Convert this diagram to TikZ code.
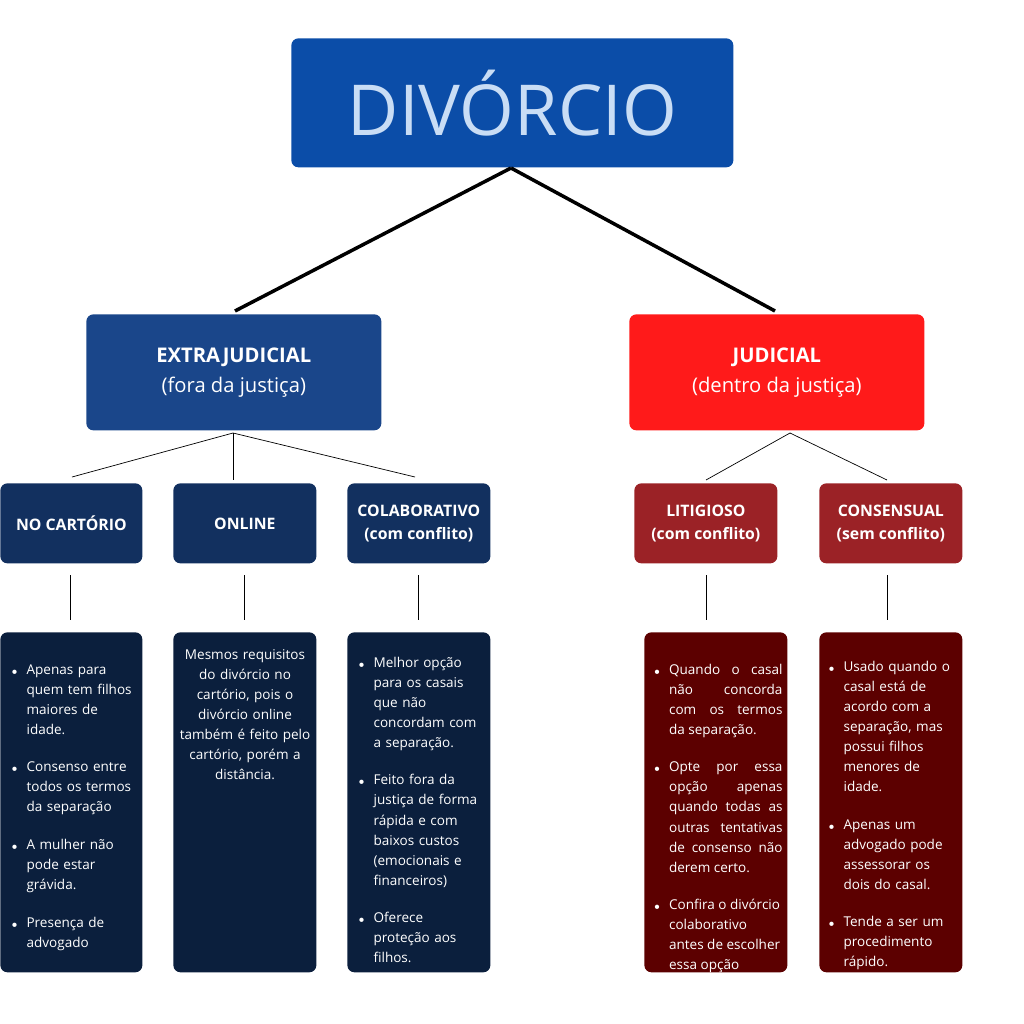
\documentclass[tikz,border=0pt]{standalone}
\usepackage{fontspec}
\setmainfont{Open Sans}
\usepackage{enumitem}
\usetikzlibrary{positioning}
\definecolor{topblue}{HTML}{0B4DA8}
\definecolor{extblue}{HTML}{1A468A}
\definecolor{judred}{HTML}{FF1A1A}
\definecolor{subblue}{HTML}{12305F}
\definecolor{subred}{HTML}{9B2226}
\definecolor{textblue}{HTML}{0B1F3D}
\definecolor{textred}{HTML}{5C0000}
\definecolor{titlefg}{HTML}{C9DDF5}
\hyphenpenalty=10000
\newcommand{\itemlist}[1]{\begin{itemize}[leftmargin=10pt,labelsep=5pt,itemsep=10pt,topsep=0pt,parsep=0pt,label={\tiny$\bullet$}]#1\end{itemize}}
\begin{document}
\begin{tikzpicture}[
    x=0.02cm,y=-0.02cm,
    box/.style 2 args={fill=#1,rounded corners=4pt,anchor=north west,
      minimum width=#2*0.02cm,inner sep=0pt},
    head/.style={text=white,font=\bfseries\fontsize{9}{13}\selectfont,align=center},
    body/.style={text=white,font=\fontsize{7.7}{11.4}\selectfont,text width=2.6cm,anchor=north},
    link/.style={line width=0.4pt,black},
    tie/.style={line width=2pt,black}
]
\useasboundingbox (0,0) rectangle (1024,1024);

% main levels
\node[box={topblue}{442},minimum height=2.58cm,text=titlefg,font=\fontsize{40}{44}\selectfont] (div) at (291,38) {DIVÓRCIO};
\node[box={extblue}{295},minimum height=2.32cm,text=white,align=center,font=\fontsize{11.5}{16}\selectfont] (ext) at (86,314) {\textbf{EXTRAJUDICIAL}\\[1pt](fora da justiça)};
\node[box={judred}{295},minimum height=2.32cm,text=white,align=center,font=\fontsize{11.5}{16}\selectfont] (jud) at (629,314) {\textbf{JUDICIAL}\\[1pt](dentro da justiça)};

% sub levels
\node[box={subblue}{142},minimum height=1.6cm,head] (car) at (0,483) {NO CARTÓRIO};
\node[box={subblue}{143},minimum height=1.6cm,head] (onl) at (173,483) {ONLINE};
\node[box={subblue}{143},minimum height=1.6cm,head] (col) at (347,483) {COLABORATIVO\\(com conflito)};
\node[box={subred}{143},minimum height=1.6cm,head] (lit) at (634,483) {LITIGIOSO\\(com conflito)};
\node[box={subred}{143},minimum height=1.6cm,head] (con) at (819,483) {CONSENSUAL\\(sem conflito)};

% detail boxes
\node[box={textblue}{142},minimum height=6.8cm] (carbox) at (0,632) {};
\node[box={textblue}{143},minimum height=6.8cm] (onlbox) at (173,632) {};
\node[box={textblue}{143},minimum height=6.8cm] (colbox) at (347,632) {};
\node[box={textred}{143},minimum height=6.8cm] (litbox) at (644,632) {};
\node[box={textred}{143},minimum height=6.8cm] (conbox) at (819,632) {};

\node[body] (cartxt) at (74,648) {\itemlist{
  \item Apenas para\\quem tem filhos\\maiores de\\idade.
  \item Consenso entre\\todos os termos\\da separação
  \item A mulher não\\pode estar\\grávida.
  \item Presença de\\advogado}};
\node[body,align=center,text width=2.8cm] (onltxt) at (245,643) {Mesmos requisitos\\do divórcio no\\cartório, pois o\\divórcio online\\também é feito pelo\\cartório, porém a\\distância.};
\node[body] (coltxt) at (421,641) {\itemlist{
  \item Melhor opção\\para os casais\\que não\\concordam com\\a separação.
  \item Feito fora da\\justiça de forma\\rápida e com\\baixos custos\\(emocionais e\\financeiros)
  \item Oferece\\proteção aos\\filhos.}};
\node[body,align=justify,text width=2.62cm] (littxt) at (717,648) {\itemlist{
  \item Quando o casal\linebreak não concorda\linebreak com os termos\linebreak da separação.
  \item Opte por essa\linebreak opção apenas\linebreak quando todas as\linebreak outras tentativas\linebreak de consenso não\linebreak derem certo.
  \item {\raggedright Confira o divórcio\\colaborativo\\antes de escolher\\essa opção\par}}};
\node[body] (context) at (891,645) {\itemlist{
  \item Usado quando o\\casal está de\\acordo com a\\separação, mas\\possui filhos\\menores de\\idade.
  \item Apenas um\\advogado pode\\assessorar os\\dois do casal.
  \item Tende a ser um\\procedimento\\rápido.}};

% connections
\coordinate (dtop) at (511,168);
\draw[tie] (dtop) -- (235,311);
\draw[tie] (dtop) -- (775,311);
\coordinate (eb) at (233,433);
\draw[link] (eb) -- (72,477);
\draw[link] (eb) -- (233,480);
\draw[link] (eb) -- (415,477);
\coordinate (jb) at (790,433);
\draw[link] (jb) -- (706,480);
\draw[link] (jb) -- (887,480);
\foreach \x in {70,244,418,706,887}
  \draw[link] (\x,575) -- (\x,620);
\end{tikzpicture}
\end{document}
